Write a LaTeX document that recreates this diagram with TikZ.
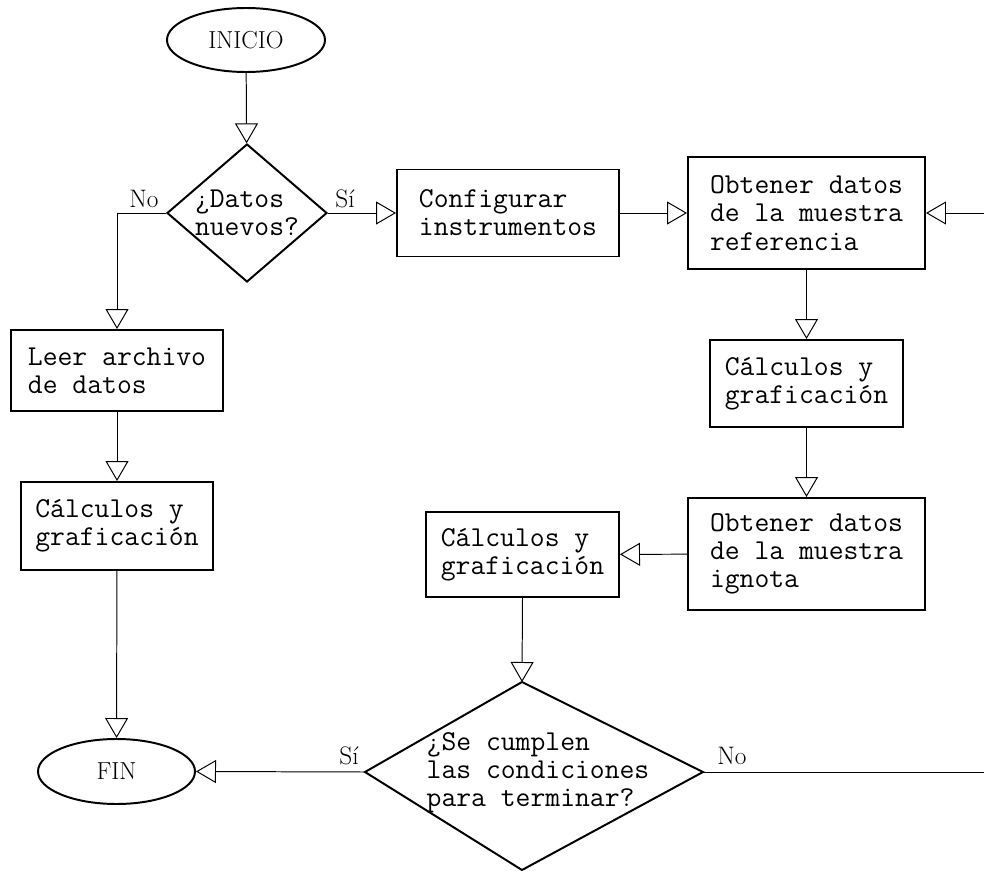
\documentclass[tikz,border=0pt]{standalone}
\usetikzlibrary{shapes.geometric,arrows.meta}

\tikzset{
  caja/.style={draw, line width=1.4pt, align=left, inner sep=0pt,
    font=\fontsize{20.5}{20}\selectfont\ttfamily},
  decision/.style={diamond, draw, line width=1.4pt, align=left, inner sep=0pt, aspect=1.16,
    font=\fontsize{20.5}{20}\selectfont\ttfamily},
  terminal/.style={ellipse, draw, line width=1.4pt, inner sep=0pt,
    font=\fontsize{17.5}{18}\selectfont},
  flecha/.style={line width=0.7pt, -{Triangle[open, length=5mm, width=5.75mm, fill=white]}},
  etiqueta/.style={font=\fontsize{18}{18}\selectfont, inner sep=0pt}
}

\begin{document}
\begin{tikzpicture}[x=0.25mm, y=-0.25mm]
  \useasboundingbox (0,0) rectangle (984,871);

  % Start and end
  \node[terminal, minimum width=39.5mm, minimum height=16mm] (inicio) at (246,40) {INICIO};
  \node[terminal, minimum width=39.25mm, minimum height=16.25mm] (fin) at (116.5,771.5) {FIN};

  % First decision
  \node[decision, minimum width=40mm, minimum height=34.5mm] (datos) at (247,213) {¿Datos\\nuevos?};

  % Left branch
  \node[caja, minimum width=53mm, minimum height=20.25mm] (leer) at (117,370.5) {Leer archivo\\de datos};
  \node[caja, minimum width=48mm, minimum height=22mm] (calcA) at (117,526) {Cálculos y\\graficación};

  % Right branch
  \node[caja, minimum width=55.5mm, minimum height=21.75mm] (config) at (508,213) {Configurar\\instrumentos};
  \node[caja, minimum width=59.25mm, minimum height=28mm] (refer) at (806.5,213) {Obtener datos\\de la muestra\\referencia};
  \node[caja, minimum width=48.25mm, minimum height=21.75mm] (calcB) at (806.5,383.5) {Cálculos y\\graficación};
  \node[caja, minimum width=59.25mm, minimum height=28mm] (ignota) at (806.5,554) {Obtener datos\\de la muestra\\ignota};
  \node[caja, minimum width=48.25mm, minimum height=21.25mm] (calcC) at (522.5,554.5) {Cálculos y\\graficación};

  % Second decision
  \coordinate (finT) at (522,682);
  \coordinate (finR) at (703,772);
  \coordinate (finB) at (522,870);
  \coordinate (finL) at (365,772);
  \draw[line width=1.4pt] (finT) -- (finR) -- (finB) -- (finL) -- cycle;
  \node[align=left, inner sep=0pt, font=\fontsize{20.5}{20}\selectfont\ttfamily] (cond) at (538,773)
    {¿Se cumplen\\las condiciones\\para terminar?};
  \coordinate (lazo) at (1010,772);

  % Labels
  \node[etiqueta] (no1) at (144,199) {No};
  \node[etiqueta] (si1) at (345,199) {Sí};
  \node[etiqueta] (si2) at (349,756) {Sí};
  \node[etiqueta] (no2) at (732,756) {No};

  % Connectors
  \draw[flecha] (inicio) -- (datos);
  \draw[flecha] (datos.east) -- (config.west);
  \draw[flecha] (config) -- (refer);
  \draw[flecha] (refer) -- (calcB);
  \draw[flecha] (calcB) -- (ignota);
  \draw[flecha] (ignota) -- (calcC);
  \draw[flecha] (calcC.south) -- (finT);
  \draw[flecha] (datos.west) -| (leer.north);
  \draw[flecha] (leer) -- (calcA);
  \draw[flecha] (calcA) -- (fin);
  \draw[flecha] (finL) -- (fin.east);
  \draw[flecha] (finR) -- (lazo) |- (refer.east);
\end{tikzpicture}
\end{document}
